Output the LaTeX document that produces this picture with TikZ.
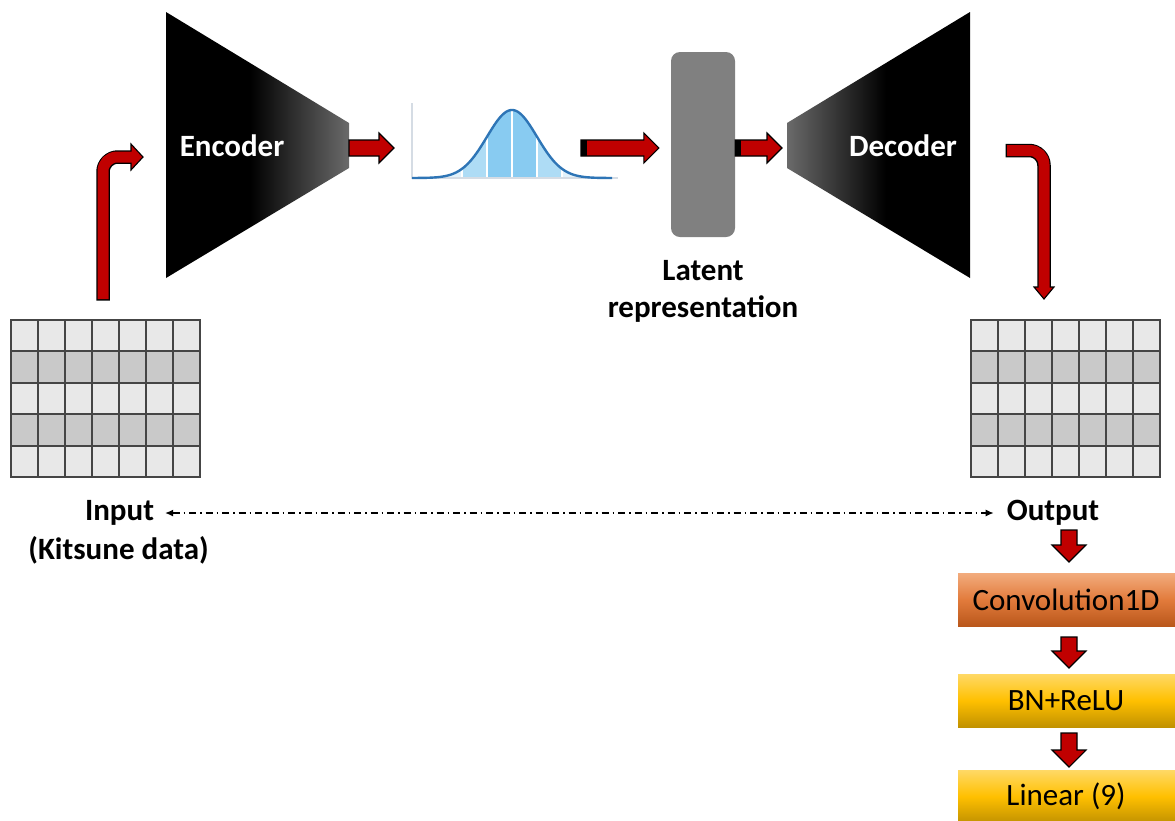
\documentclass[tikz,border=0pt]{standalone}
\usepackage{fontspec}
\setmainfont{Carlito}
\usetikzlibrary{calc,arrows.meta}

\definecolor{arrowred}{HTML}{C00000}
\definecolor{encgray}{HTML}{6A6A6A}
\definecolor{latentgray}{HTML}{808080}
\definecolor{cellA}{HTML}{E8E8E8}
\definecolor{cellB}{HTML}{C9C9C9}
\definecolor{gridline}{HTML}{454545}
\definecolor{curveblue}{HTML}{2E75B6}
\definecolor{bandin}{HTML}{88CBF1}
\definecolor{bandout}{HTML}{AEDCF5}
\definecolor{bandtail}{HTML}{E2F2FB}
\definecolor{axisgray}{HTML}{D5DCE4}
\definecolor{orangetop}{HTML}{F3AE80}
\definecolor{orangemid}{HTML}{E27B3C}
\definecolor{orangebot}{HTML}{B8561A}
\definecolor{yellowtop}{HTML}{FFDA6A}
\definecolor{yellowmid}{HTML}{FFC000}
\definecolor{yellowbot}{HTML}{BF9000}

% encoder fades from black to grey towards its narrow end, decoder the other way
\pgfdeclarehorizontalshading{encfade}{100bp}{color(0bp)=(black); color(48bp)=(black); color(75bp)=(encgray); color(100bp)=(encgray)}
\pgfdeclarehorizontalshading{decfade}{100bp}{color(0bp)=(encgray); color(25bp)=(encgray); color(52bp)=(black); color(100bp)=(black)}

\newcommand{\bigfont}{\fontsize{31}{37}\selectfont}

\tikzset{
  blockarrow/.style={fill=arrowred, draw=black, line width=1.1pt, line join=miter},
  label/.style={inner sep=0pt, font=\bigfont\bfseries},
  layerbox/.style={minimum width=218pt, minimum height=55pt, inner sep=0pt, draw=white, line width=0.6pt, font=\bigfont},
  convbox/.style={layerbox, top color=orangetop, bottom color=orangebot, middle color=orangemid},
  yellowbox/.style={layerbox, top color=yellowtop, bottom color=yellowbot, middle color=yellowmid},
  latentbox/.style={fill=latentgray, rounded corners=9pt, minimum width=64pt, minimum height=185pt, inner sep=0pt},
  gridrule/.style={draw=gridline, line width=2pt},
  dashdot/.style={line width=1.2pt, dash pattern=on 7pt off 4pt on 1.5pt off 4pt}
}

% straight red block arrow pointing right, #1 tail, #2 tip
\newcommand{\rightblock}[2]{%
  \draw[blockarrow] ($(#1)+(0,-8)$) -- ($(#2)+(-15,-8)$) -- ($(#2)+(-15,-15)$) -- (#2)
    -- ($(#2)+(-15,15)$) -- ($(#2)+(-15,8)$) -- ($(#1)+(0,8)$) -- cycle;}
% straight red block arrow pointing down, #1 tail, #2 tip
\newcommand{\downblock}[2]{%
  \draw[blockarrow] ($(#1)+(-8,0)$) -- ($(#2)+(-8,-17)$) -- ($(#2)+(-17,-17)$) -- (#2)
    -- ($(#2)+(17,-17)$) -- ($(#2)+(8,-17)$) -- ($(#1)+(8,0)$) -- cycle;}
% 7 x 5 table of feature cells, #1 = top-left corner (whole pixels)
\newcommand{\datatable}[1]{%
  \begin{scope}[shift={(#1)}]
    \foreach \r/\cellcol in {0/cellA,1/cellB,2/cellA,3/cellB,4/cellA}
      \fill[\cellcol] (0,{round(\r*31.4)}) rectangle (189,{round(\r*31.4+31.4)});
    \foreach \i in {0,1,2,3,4,5,6,7} \draw[gridrule] ({\i*27},-1) -- ({\i*27},158);
    \foreach \j in {0,1,2,3,4,5} \draw[gridrule] (-1,{round(\j*31.4)}) -- (190,{round(\j*31.4)});
  \end{scope}}

\begin{document}
\begin{tikzpicture}[x=1pt, y=-1pt, font=\bigfont]
\useasboundingbox (0,0) rectangle (1175,820);
\clip (0,0) rectangle (1175,820);
\fill[white] (0,0) rectangle (1175,820);

% ---------- encoder ----------
\shade[shading=encfade] (166,12) -- (349,123) -- (349,168) -- (166,278) -- cycle;
\node[label, text=white] (enc) at (232,146) {Encoder};
\coordinate (encOut) at (349,148);

% ---------- decoder ----------
\shade[shading=decfade] (787,123) -- (970,12) -- (970,278) -- (787,168) -- cycle;
\node[label, text=white] (dec) at (903,146) {Decoder};
\coordinate (decIn) at (782,148);

% ---------- input / output tables ----------
\datatable{11,320}
\datatable{971,320}
\coordinate (inTop) at (103,299);
\coordinate (outTop) at (1044,299);

% ---------- latent distribution ----------
\coordinate (distIn) at (394,148);
\coordinate (distOut) at (581,148);
\fill[bandtail] (412,178) -- plot[domain=412:462, samples=30] (\x,{178-68*exp(-(\x-512)*(\x-512)/1250)}) -- (462,178) -- cycle;
\fill[bandtail] (562,178) -- plot[domain=562:612, samples=30] (\x,{178-68*exp(-(\x-512)*(\x-512)/1250)}) -- (612,178) -- cycle;
\fill[bandout] (462,178) -- plot[domain=462:562, samples=60] (\x,{178-68*exp(-(\x-512)*(\x-512)/1250)}) -- (562,178) -- cycle;
\fill[bandin] (487,178) -- plot[domain=487:537, samples=40] (\x,{178-68*exp(-(\x-512)*(\x-512)/1250)}) -- (537,178) -- cycle;
\foreach \v in {462,487,512,537,562}
  \draw[white, line width=1.3pt] (\v,178) -- (\v,{179-68*exp(-(\v-512)*(\v-512)/1250)});
\draw[axisgray, line width=1.4pt] (412,103) -- (412,178) -- (618,178);
\draw[curveblue, line width=2.4pt, line join=round] plot[domain=412:612, samples=120] (\x,{178-68*exp(-(\x-512)*(\x-512)/1250)});

% ---------- latent representation ----------
\node[latentbox] (latent) at (703,144.5) {};
\node[label, align=center] (latlab) at (703,291.5) {Latent\\representation};
\coordinate (latIn) at ($(latent.west)+(-12,3.5)$);
\coordinate (latOut) at ($(latent.east)+(0,3.5)$);

% ---------- straight red arrows ----------
\rightblock{encOut}{distIn}
\rightblock{distOut}{latIn}
\fill[black] ($(distOut)+(0,-8)$) rectangle ($(distOut)+(6,8)$);
\rightblock{latOut}{decIn}
\fill[black] ($(latOut)+(0,-8)$) rectangle ($(latOut)+(6,8)$);

% ---------- bent arrow: input table up into the encoder ----------
\coordinate (encIn) at (143,157);
\draw[black, line width=13.5pt, rounded corners=15pt] ($(inTop)+(0,1.5)$) |- ($(encIn)+(-12,0)$);
\draw[blockarrow] ($(encIn)+(-12,-13)$) -- (encIn) -- ($(encIn)+(-12,13)$) -- cycle;
\draw[arrowred, line width=11pt, rounded corners=14pt] (inTop) |- ($(encIn)+(-10.5,0)$);

% ---------- bent arrow: decoder down onto the output table ----------
\coordinate (decOut) at (1007,150.5);
\draw[black, line width=13.5pt, rounded corners=15pt] ($(decOut)+(-1.5,0)$) -| ($(outTop)+(0,-12)$);
\draw[blockarrow] ($(outTop)+(-10,-12)$) -- (outTop) -- ($(outTop)+(10,-12)$) -- cycle;
\draw[arrowred, line width=11pt, rounded corners=14pt] (decOut) -| ($(outTop)+(0,-10.5)$);

% ---------- labels and reconstruction link ----------
\node[label] (inp) at (119.5,513) {Input};
\node[label] (kit) at (118.5,550) {(Kitsune data)};
\node[label] (outp) at (1053,513) {Output};
\draw[dashdot, {Latex[length=8pt,width=7pt]}-{Latex[length=8pt,width=7pt]}]
  ($(inp.east)+(11,0)$) -- ($(outp.west)+(-13,0)$);

% ---------- classifier head ----------
\node[convbox] (conv) at (1066,599.5) {Convolution1D};
\node[yellowbox] (bn) at (1066,700.5) {BN+ReLU};
\node[yellowbox] (lin) at (1066,796.5) {Linear (9)};
\coordinate (a1) at (1069,530);
\coordinate (a1t) at (1069,562);
\coordinate (a2) at (1069,637);
\coordinate (a2t) at (1069,668);
\coordinate (a3) at (1069,733);
\coordinate (a3t) at (1069,767);
\downblock{a1}{a1t}
\downblock{a2}{a2t}
\downblock{a3}{a3t}
\end{tikzpicture}
\end{document}
